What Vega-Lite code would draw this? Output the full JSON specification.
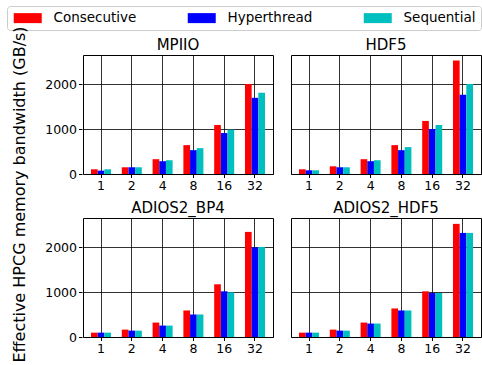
{
  "$schema": "https://vega.github.io/schema/vega-lite/v6.json",
  "padding": {"left": 6, "top": 5, "right": 0, "bottom": 0},
  "title": {"text": "Effective HPCG memory bandwidth (GB/s)", "orient": "left", "anchor": "middle", "fontSize": 16, "fontWeight": "normal", "font": "DejaVu Sans", "color": "black", "offset": -21, "dx": -14},
  "data": {"values": [
    {"io": "MPIIO", "n": 1, "strategy": "Consecutive", "bw": 105},
    {"io": "MPIIO", "n": 1, "strategy": "Hyperthread", "bw": 75},
    {"io": "MPIIO", "n": 1, "strategy": "Sequential", "bw": 105},
    {"io": "MPIIO", "n": 2, "strategy": "Consecutive", "bw": 150},
    {"io": "MPIIO", "n": 2, "strategy": "Hyperthread", "bw": 150},
    {"io": "MPIIO", "n": 2, "strategy": "Sequential", "bw": 150},
    {"io": "MPIIO", "n": 4, "strategy": "Consecutive", "bw": 330},
    {"io": "MPIIO", "n": 4, "strategy": "Hyperthread", "bw": 285},
    {"io": "MPIIO", "n": 4, "strategy": "Sequential", "bw": 307},
    {"io": "MPIIO", "n": 8, "strategy": "Consecutive", "bw": 644},
    {"io": "MPIIO", "n": 8, "strategy": "Hyperthread", "bw": 532},
    {"io": "MPIIO", "n": 8, "strategy": "Sequential", "bw": 577},
    {"io": "MPIIO", "n": 16, "strategy": "Consecutive", "bw": 1094},
    {"io": "MPIIO", "n": 16, "strategy": "Hyperthread", "bw": 914},
    {"io": "MPIIO", "n": 16, "strategy": "Sequential", "bw": 989},
    {"io": "MPIIO", "n": 32, "strategy": "Consecutive", "bw": 2007},
    {"io": "MPIIO", "n": 32, "strategy": "Hyperthread", "bw": 1700},
    {"io": "MPIIO", "n": 32, "strategy": "Sequential", "bw": 1813},
    {"io": "HDF5", "n": 1, "strategy": "Consecutive", "bw": 105},
    {"io": "HDF5", "n": 1, "strategy": "Hyperthread", "bw": 82},
    {"io": "HDF5", "n": 1, "strategy": "Sequential", "bw": 82},
    {"io": "HDF5", "n": 2, "strategy": "Consecutive", "bw": 172},
    {"io": "HDF5", "n": 2, "strategy": "Hyperthread", "bw": 150},
    {"io": "HDF5", "n": 2, "strategy": "Sequential", "bw": 150},
    {"io": "HDF5", "n": 4, "strategy": "Consecutive", "bw": 330},
    {"io": "HDF5", "n": 4, "strategy": "Hyperthread", "bw": 285},
    {"io": "HDF5", "n": 4, "strategy": "Sequential", "bw": 307},
    {"io": "HDF5", "n": 8, "strategy": "Consecutive", "bw": 644},
    {"io": "HDF5", "n": 8, "strategy": "Hyperthread", "bw": 532},
    {"io": "HDF5", "n": 8, "strategy": "Sequential", "bw": 600},
    {"io": "HDF5", "n": 16, "strategy": "Consecutive", "bw": 1184},
    {"io": "HDF5", "n": 16, "strategy": "Hyperthread", "bw": 1004},
    {"io": "HDF5", "n": 16, "strategy": "Sequential", "bw": 1094},
    {"io": "HDF5", "n": 32, "strategy": "Consecutive", "bw": 2532},
    {"io": "HDF5", "n": 32, "strategy": "Hyperthread", "bw": 1768},
    {"io": "HDF5", "n": 32, "strategy": "Sequential", "bw": 2007},
    {"io": "ADIOS2_BP4", "n": 1, "strategy": "Consecutive", "bw": 97},
    {"io": "ADIOS2_BP4", "n": 1, "strategy": "Hyperthread", "bw": 97},
    {"io": "ADIOS2_BP4", "n": 1, "strategy": "Sequential", "bw": 97},
    {"io": "ADIOS2_BP4", "n": 2, "strategy": "Consecutive", "bw": 165},
    {"io": "ADIOS2_BP4", "n": 2, "strategy": "Hyperthread", "bw": 142},
    {"io": "ADIOS2_BP4", "n": 2, "strategy": "Sequential", "bw": 142},
    {"io": "ADIOS2_BP4", "n": 4, "strategy": "Consecutive", "bw": 322},
    {"io": "ADIOS2_BP4", "n": 4, "strategy": "Hyperthread", "bw": 255},
    {"io": "ADIOS2_BP4", "n": 4, "strategy": "Sequential", "bw": 255},
    {"io": "ADIOS2_BP4", "n": 8, "strategy": "Consecutive", "bw": 592},
    {"io": "ADIOS2_BP4", "n": 8, "strategy": "Hyperthread", "bw": 502},
    {"io": "ADIOS2_BP4", "n": 8, "strategy": "Sequential", "bw": 502},
    {"io": "ADIOS2_BP4", "n": 16, "strategy": "Consecutive", "bw": 1176},
    {"io": "ADIOS2_BP4", "n": 16, "strategy": "Hyperthread", "bw": 1019},
    {"io": "ADIOS2_BP4", "n": 16, "strategy": "Sequential", "bw": 996},
    {"io": "ADIOS2_BP4", "n": 32, "strategy": "Consecutive", "bw": 2345},
    {"io": "ADIOS2_BP4", "n": 32, "strategy": "Hyperthread", "bw": 2000},
    {"io": "ADIOS2_BP4", "n": 32, "strategy": "Sequential", "bw": 2007},
    {"io": "ADIOS2_HDF5", "n": 1, "strategy": "Consecutive", "bw": 97},
    {"io": "ADIOS2_HDF5", "n": 1, "strategy": "Hyperthread", "bw": 97},
    {"io": "ADIOS2_HDF5", "n": 1, "strategy": "Sequential", "bw": 97},
    {"io": "ADIOS2_HDF5", "n": 2, "strategy": "Consecutive", "bw": 165},
    {"io": "ADIOS2_HDF5", "n": 2, "strategy": "Hyperthread", "bw": 142},
    {"io": "ADIOS2_HDF5", "n": 2, "strategy": "Sequential", "bw": 142},
    {"io": "ADIOS2_HDF5", "n": 4, "strategy": "Consecutive", "bw": 322},
    {"io": "ADIOS2_HDF5", "n": 4, "strategy": "Hyperthread", "bw": 300},
    {"io": "ADIOS2_HDF5", "n": 4, "strategy": "Sequential", "bw": 300},
    {"io": "ADIOS2_HDF5", "n": 8, "strategy": "Consecutive", "bw": 637},
    {"io": "ADIOS2_HDF5", "n": 8, "strategy": "Hyperthread", "bw": 592},
    {"io": "ADIOS2_HDF5", "n": 8, "strategy": "Sequential", "bw": 592},
    {"io": "ADIOS2_HDF5", "n": 16, "strategy": "Consecutive", "bw": 1019},
    {"io": "ADIOS2_HDF5", "n": 16, "strategy": "Hyperthread", "bw": 981},
    {"io": "ADIOS2_HDF5", "n": 16, "strategy": "Sequential", "bw": 981},
    {"io": "ADIOS2_HDF5", "n": 32, "strategy": "Consecutive", "bw": 2524},
    {"io": "ADIOS2_HDF5", "n": 32, "strategy": "Hyperthread", "bw": 2322},
    {"io": "ADIOS2_HDF5", "n": 32, "strategy": "Sequential", "bw": 2322}
  ]},
  "facet": {
    "field": "io", "type": "nominal",
    "sort": ["MPIIO", "HDF5", "ADIOS2_BP4", "ADIOS2_HDF5"],
    "header": {"title": null, "labelFontSize": 15, "labelFont": "DejaVu Sans", "labelColor": "black", "labelPadding": 2}
  },
  "columns": 2,
  "spacing": {"column": 16, "row": 7},
  "spec": {
    "width": 190,
    "height": 119,
    "mark": {"type": "bar"},
    "encoding": {
      "x": {
        "field": "n", "type": "ordinal", "sort": [1, 2, 4, 8, 16, 32],
        "scale": {"paddingInner": 0.35, "paddingOuter": 0.26},
        "axis": {"title": null, "labelAngle": 0, "bandPosition": 0.5, "grid": true}
      },
      "xOffset": {"field": "strategy", "type": "nominal", "sort": ["Consecutive", "Hyperthread", "Sequential"], "scale": {"paddingInner": 0, "paddingOuter": 0}},
      "y": {
        "field": "bw", "type": "quantitative",
        "scale": {"domain": [0, 2655], "nice": false, "zero": true},
        "axis": {"title": null, "values": [0, 1000, 2000], "format": "d", "grid": true}
      },
      "color": {
        "field": "strategy", "type": "nominal",
        "scale": {"domain": ["Consecutive", "Hyperthread", "Sequential"], "range": ["#ff0000", "#0000ff", "#00bfbf"]},
        "legend": {
          "title": null, "orient": "none", "legendX": -76, "legendY": -49, "direction": "horizontal", "columns": 3,
          "symbolType": "M-2.8,-1H2.8V1H-2.8Z", "symbolSize": 100, "symbolStrokeWidth": 0, "symbolOffset": 9,
          "labelFontSize": 13.5, "labelFont": "DejaVu Sans", "labelColor": "black", "labelOffset": 19,
          "columnPadding": 49, "padding": 5, "strokeColor": "#cccccc", "cornerRadius": 3, "fillColor": "white"
        }
      }
    }
  },
  "resolve": {"axis": {"x": "independent"}},
  "config": {
    "font": "DejaVu Sans",
    "view": {"stroke": "black", "strokeWidth": 1},
    "axis": {
      "domain": false, "tickColor": "black", "tickSize": 3.5, "labelFontSize": 12.5, "labelColor": "black",
      "labelFont": "DejaVu Sans", "gridColor": "black", "gridOpacity": 0.8, "labelPadding": 2
    }
  }
}
